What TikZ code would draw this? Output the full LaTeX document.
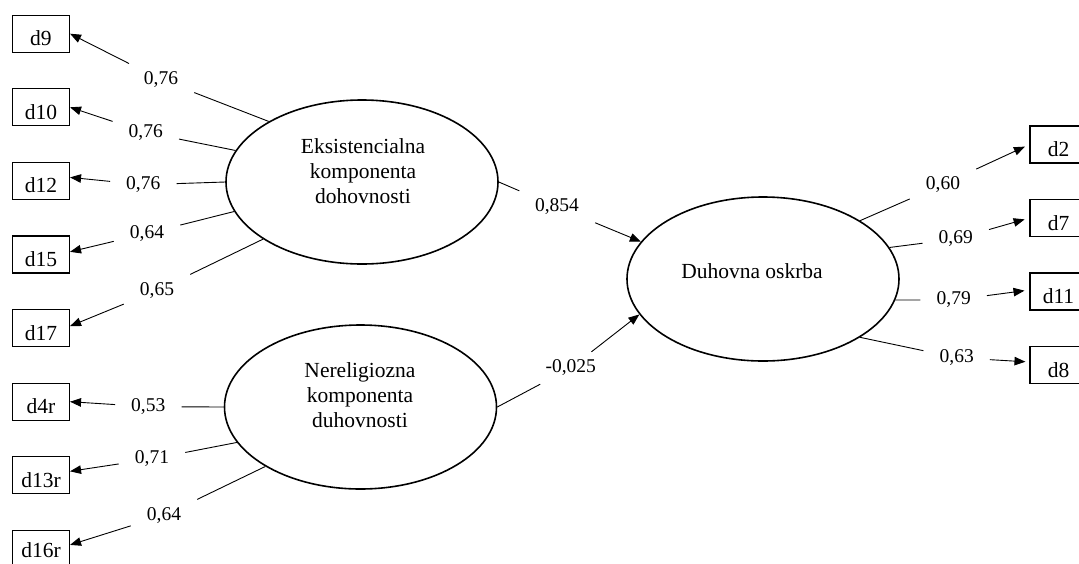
\documentclass[tikz,border=0pt]{standalone}
\usepackage{fontspec}
\setmainfont{Liberation Serif}
\usetikzlibrary{arrows.meta,shapes.geometric}
\tikzset{
 lat/.style={draw, ellipse, line width=1.6pt, minimum width=272pt, minimum height=164pt, inner sep=0pt},
 box/.style={draw, line width=1.1pt, minimum width=57pt, minimum height=37pt, inner sep=0pt, text height=24pt, text depth=0pt, font=\fontsize{21.5}{24.7}\selectfont},
 ltxt/.style={align=center, font=\fontsize{21.5}{24.7}\selectfont, inner sep=0pt},
 lbl/.style={font=\fontsize{19.5}{22}\selectfont, inner xsep=16pt, inner ysep=8pt},
 con/.style={line width=0.9pt},
 arr/.style={con, -{Triangle[length=11pt,width=8.5pt]}},
}
\begin{document}
\begin{tikzpicture}[x=1pt,y=-1pt]
\clip (0,0) rectangle (1079,563);
\fill[white] (0,0) rectangle (1079,563);
% latent variables
\node[lat] (E1) at (362,182) {};
\node[lat] (E2) at (360.5,407) {};
\node[lat] (E3) at (763,279) {};
\node[ltxt] (E1t) at (363,171.3) {Eksistencialna\\komponenta\\dohovnosti};
\node[ltxt] (E2t) at (360,395) {Nereligiozna\\komponenta\\duhovnosti};
\node[ltxt] (E3t) at (752,271.2) {Duhovna oskrba};
% left indicators
\node[box] (d9)  at (41,33.7)  {d9};
\node[box] (d10) at (41,107.3) {d10};
\node[box] (d12) at (41,180.9) {d12};
\node[box] (d15) at (41,254.5) {d15};
\node[box] (d17) at (41,328.1) {d17};
\node[box] (d4r) at (41,401.7) {d4r};
\node[box] (d13r) at (41,475.3) {d13r};
\node[box, text height=18pt] (d16r) at (41,548.9) {d16r};
% right indicators
\node[box] (d2)  at (1058.5,144.5) {d2};
\node[box] (d7)  at (1058.5,218) {d7};
\node[box] (d11) at (1058.5,291.5) {d11};
\node[box] (d8)  at (1058.5,365) {d8};
% loading labels
\node[lbl] (l1) at (161,79.7) {0,76};
\node[lbl] (l2) at (145.8,132.4) {0,76};
\node[lbl] (l3) at (143.3,184.7) {0,76};
\node[lbl] (l4) at (147,233.4) {0,64};
\node[lbl] (l5) at (157,290.5) {0,65};
\node[lbl] (l6) at (148.3,406.7) {0,53};
\node[lbl] (l7) at (152,458.9) {0,71};
\node[lbl] (l8) at (164,515.4) {0,64};
\node[lbl] (r1) at (943,184.4) {0,60};
\node[lbl] (r2) at (955.8,239) {0,69};
\node[lbl] (r3) at (953.7,300) {0,79};
\node[lbl] (r4) at (956.7,357.7) {0,63};
\node[lbl] (m1) at (557,207) {0,854};
\node[lbl] (m2) at (570.7,368) {-0,025};
% connectors E1
\draw[con] (E1.147.6) -- (l1);  \draw[arr] (l1) -- (d9.east);
\draw[con] (E1.166.7) -- (l2);  \draw[arr] (l2) -- (d10.east);
\draw[con] (E1.180) -- (l3);    \draw[arr] (l3) -- ([yshift=3.5pt]d12.east);
\draw[con] (E1.193.7) -- (l4);  \draw[arr] (l4) -- ([yshift=2.7pt]d15.east);
\draw[con] (E1.210.8) -- (l5);  \draw[arr] (l5) -- ([yshift=2pt]d17.east);
% connectors E2
\draw[con] (E2.180) -- (l6);    \draw[arr] (l6) -- (d4r.east);
\draw[con] (E2.196.7) -- (l7);  \draw[arr] (l7) -- ([yshift=4pt]d13r.east);
\draw[con] (E2.212.1) -- (l8);  \draw[arr] (l8) -- ([yshift=4pt]d16r.east);
% connectors E3
\draw[con] (E3.31.2) -- (r1);   \draw[arr, shorten >=5pt] (r1) -- (d2.west);
\draw[con] (E3.14) -- (r2);     \draw[arr, shorten >=5pt] (r2) -- (d7.west);
\draw[con] (E3.-9.9) -- (r3);   \draw[arr, shorten >=5pt] (r3) -- ([yshift=1.5pt]d11.west);
\draw[con] (E3.-31) -- (r4);    \draw[arr, shorten >=4pt] (r4) -- ([yshift=3pt]d8.west);
% structural paths
\draw[con] (E1.east) -- (m1);   \draw[arr] (m1) -- (E3.163.5);
\draw[con] (E2.east) -- (m2);   \draw[arr] (m2) -- (E3.196);
\end{tikzpicture}
\end{document}
